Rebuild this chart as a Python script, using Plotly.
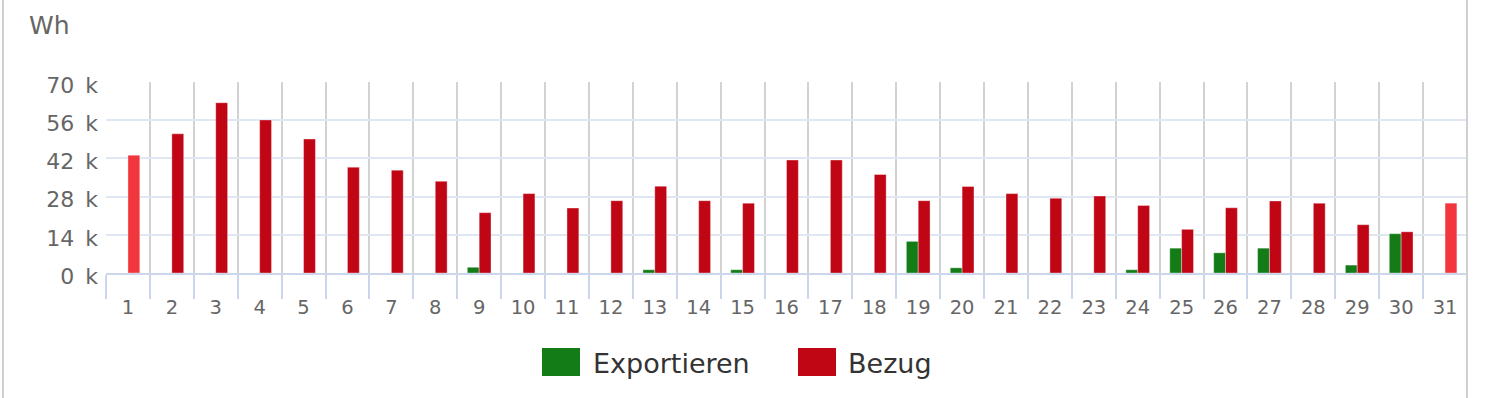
import plotly.graph_objects as go

# ---- data ----
days = [str(d) for d in range(1, 32)]
bezug = [43.2, 51.0, 62.4, 56.1, 49.1, 38.8, 37.7, 33.6, 22.1, 29.1,
         23.8, 26.5, 31.8, 26.5, 25.6, 41.4, 41.4, 36.1, 26.5, 31.7,
         29.1, 27.4, 28.2, 24.7, 16.0, 23.9, 26.4, 25.6, 17.7, 15.1, 25.6]
exportieren = [0, 0, 0, 0, 0, 0, 0, 0, 2.1, 0,
               0, 0, 1.2, 0, 1.2, 0, 0, 0, 11.6, 1.9,
               0, 0, 0, 1.2, 9.1, 7.4, 9.1, 0, 2.9, 14.4, 0]
partial_days = ["1", "31"]
y_ticks = [0, 14, 28, 42, 56, 70]
y_tick_labels = ["0\u2002k", "14\u2002k", "28\u2002k", "42\u2002k", "56\u2002k", "70\u2002k"]
series_names = ["Exportieren", "Bezug"]

# ---- styling ----
W, H = 1496, 398
L, R, T, B = 106, 29, 82, 125
PW, PH = W - L - R, H - T - B
GREEN = "#137c17"
RED = "#c00514"
RED_LIGHT = "#f2363d"
FONT = "DejaVu Sans"


def px_x(p):
    return (p - L) / PW


def px_y(p):
    return (H - B - p) / PH


bez_vals = [v * 1000 for v in bezug]
exp_vals = [v * 1000 for v in exportieren]
bez_colors = [RED_LIGHT if d in partial_days else RED for d in days]

fig = go.Figure()
fig.add_trace(go.Bar(x=days, y=exp_vals, name=series_names[0],
                     marker=dict(color=GREEN, line=dict(width=0.6, color="rgba(255,255,255,0.6)"))))
fig.add_trace(go.Bar(x=days, y=bez_vals, name=series_names[1],
                     marker=dict(color=bez_colors, line=dict(width=0.6, color="rgba(255,255,255,0.6)"))))

fig.update_layout(
    width=W, height=H,
    margin=dict(l=L, r=R, t=T, b=B, pad=0),
    paper_bgcolor="white", plot_bgcolor="white",
    barmode="group", bargap=0.46, bargroupgap=0,
    showlegend=False,
    font=dict(family=FONT, color="#666666"),
)
fig.update_xaxes(
    type="category", tickson="boundaries",
    showgrid=True, gridcolor="#d2d2d2", gridwidth=2,
    ticks="outside", ticklen=24, tickcolor="#ccd6eb", tickwidth=2,
    showline=True, linecolor="#ccd6eb", linewidth=2,
    tickfont=dict(size=19.5, color="#666666", family=FONT),
    ticklabelstandoff=16,
    zeroline=False, fixedrange=True,
)
fig.update_yaxes(
    range=[0, 70000], tickvals=[v * 1000 for v in y_ticks], ticktext=y_tick_labels,
    showgrid=True, gridcolor="#dfe7f2", gridwidth=2,
    zeroline=False, showline=False, ticks="",
    tickfont=dict(size=22, color="#666666", family=FONT),
    ticklabelstandoff=7, ticklabelshift=3,
)

# outer frame lines
fig.add_shape(type="line", xref="paper", yref="paper", x0=px_x(3), x1=px_x(3),
              y0=px_y(H), y1=px_y(0), line=dict(color="#d0d0d0", width=2))
fig.add_shape(type="line", xref="paper", yref="paper", x0=px_x(1467), x1=px_x(1467),
              y0=px_y(H), y1=px_y(0), line=dict(color="#d0d0d0", width=2))

# axis title "Wh"
fig.add_annotation(text="Wh", xref="paper", yref="paper", x=px_x(27), y=px_y(26),
                   xanchor="left", yanchor="middle", showarrow=False,
                   font=dict(size=25, color="#666666", family=FONT))

# legend
for name, color, x0, tx in [(series_names[0], GREEN, 542, 591), (series_names[1], RED, 798, 846)]:
    fig.add_shape(type="rect", xref="paper", yref="paper",
                  x0=px_x(x0), x1=px_x(x0 + 38), y0=px_y(376), y1=px_y(348),
                  fillcolor=color, line=dict(width=0))
    fig.add_annotation(text=name, xref="paper", yref="paper", x=px_x(tx), y=px_y(363),
                       xanchor="left", yanchor="middle", showarrow=False,
                       font=dict(size=27, color="#333333", family=FONT))

fig.write_html("out.html")
